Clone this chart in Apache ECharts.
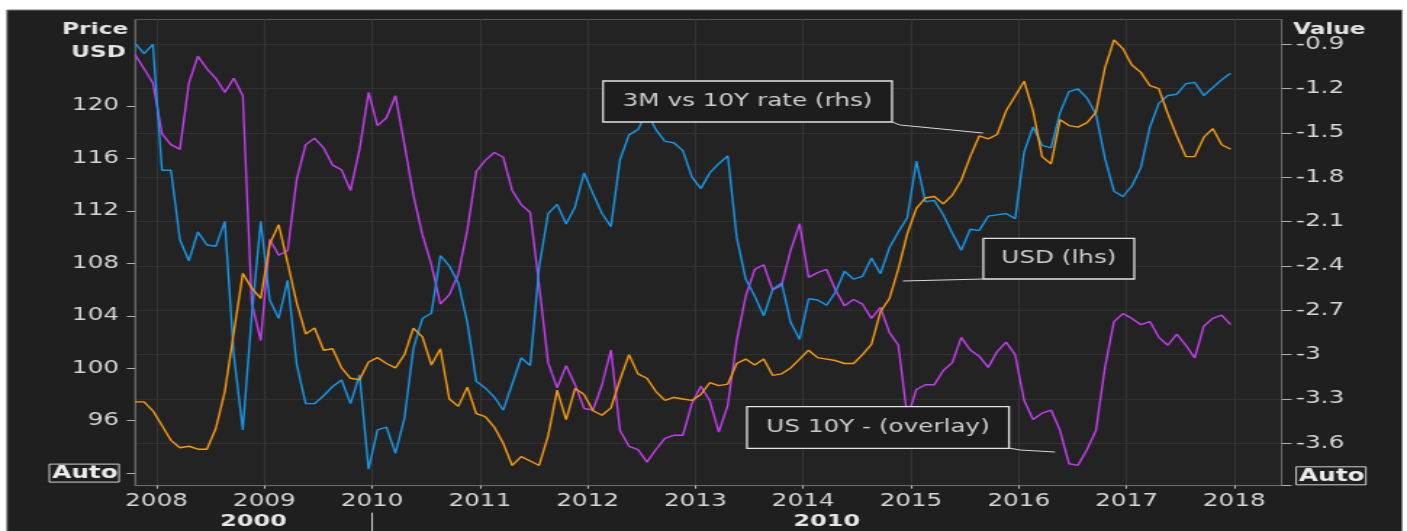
<!DOCTYPE html>
<html>
<head>
<meta charset="utf-8">
<title>USD vs 3M-10Y rate</title>
<script src="https://cdn.jsdelivr.net/npm/echarts@6/dist/echarts.min.js"></script>
<style>
  html, body { margin: 0; padding: 0; background: #fff; overflow: hidden; }
  /* the source screenshot is stretched sideways, so draw narrow and scale it */
  #chart { width: 970px; height: 531px; transform: scaleX(1.4505); transform-origin: 0 0; }
</style>
</head>
<body>
<div id="chart"></div>
<script>
// monthly points, Oct 2007 .. Dec 2017
const startYear = 2007
const startMonth = 10

const usd = [
  124.8, 124.0, 124.7, 115.1, 115.1, 109.8, 108.2, 110.4, 109.4, 109.3,
  111.2, 101.0, 95.3, 104.0, 111.2, 105.2, 103.8, 106.7, 100.3, 97.3,
  97.3, 97.9, 98.6, 99.1, 97.3, 99.5, 92.3, 95.3, 95.5, 93.5,
  96.2, 101.5, 103.8, 104.2, 108.6, 107.8, 106.5, 103.5, 99.0, 98.5,
  97.8, 96.8, 98.8, 100.8, 100.2, 107.7, 111.8, 112.5, 111.0, 112.3,
  114.9, 113.3, 111.8, 110.8, 115.9, 117.8, 118.2, 119.5, 118.2, 117.3,
  117.2, 116.6, 114.6, 113.7, 114.9, 115.6, 116.2, 110.0, 106.8, 105.5,
  104.0, 106.0, 106.5, 103.5, 102.2, 105.3, 105.2, 104.8, 105.8, 107.4,
  106.8, 107.0, 108.4, 107.2, 109.2, 110.4, 111.5, 115.8, 112.7, 112.8,
  111.7, 110.3, 109.0, 110.6, 110.5, 111.6, 111.7, 111.8, 111.4, 116.5,
  118.4, 117.0, 116.8, 119.5, 121.1, 121.3, 120.6, 119.4, 116.0, 113.5,
  113.1, 113.9, 115.3, 118.4, 120.2, 120.8, 120.9, 121.7, 121.8, 120.8,
  121.4, 122.0, 122.5
]

const rate3m10y = [
  -3.32, -3.32, -3.38, -3.48, -3.58, -3.63, -3.62, -3.64, -3.64, -3.50,
  -3.25, -2.85, -2.45, -2.55, -2.62, -2.25, -2.12, -2.38, -2.65, -2.86,
  -2.82, -2.97, -2.96, -3.09, -3.16, -3.17, -3.05, -3.02, -3.06, -3.09,
  -3.00, -2.82, -2.88, -3.07, -2.96, -3.30, -3.35, -3.22, -3.40, -3.42,
  -3.49, -3.60, -3.75, -3.69, -3.72, -3.75, -3.55, -3.24, -3.44, -3.23,
  -3.27, -3.38, -3.41, -3.36, -3.17, -3.00, -3.13, -3.16, -3.25, -3.31,
  -3.29, -3.30, -3.31, -3.27, -3.19, -3.21, -3.20, -3.06, -3.03, -3.07,
  -3.03, -3.14, -3.13, -3.09, -3.03, -2.97, -3.02, -3.03, -3.04, -3.06,
  -3.06, -3.00, -2.93, -2.71, -2.62, -2.42, -2.18, -2.01, -1.94, -1.93,
  -1.98, -1.92, -1.82, -1.66, -1.52, -1.54, -1.51, -1.35, -1.25, -1.15,
  -1.35, -1.66, -1.71, -1.41, -1.45, -1.46, -1.43, -1.36, -1.06, -0.87,
  -0.93, -1.04, -1.09, -1.18, -1.20, -1.37, -1.52, -1.66, -1.66, -1.53,
  -1.47, -1.58, -1.61
]

const us10y = [
  4.09, 4.00, 3.91, 3.59, 3.52, 3.49, 3.91, 4.08, 4.00, 3.94,
  3.85, 3.94, 3.83, 2.52, 2.28, 2.92, 2.82, 2.85, 3.30, 3.52,
  3.56, 3.50, 3.39, 3.36, 3.23, 3.49, 3.85, 3.64, 3.69, 3.83,
  3.52, 3.20, 2.95, 2.76, 2.51, 2.57, 2.70, 2.98, 3.35, 3.42,
  3.47, 3.44, 3.23, 3.14, 3.09, 2.63, 2.14, 1.98, 2.12, 2.00,
  1.85, 1.84, 2.00, 2.22, 1.71, 1.61, 1.59, 1.51, 1.59, 1.66,
  1.68, 1.68, 1.88, 1.99, 1.90, 1.70, 1.87, 2.28, 2.56, 2.73,
  2.76, 2.60, 2.63, 2.85, 3.02, 2.68, 2.71, 2.73, 2.60, 2.50,
  2.54, 2.51, 2.42, 2.49, 2.33, 2.25, 1.79, 1.97, 2.00, 2.00,
  2.09, 2.14, 2.30, 2.22, 2.18, 2.11, 2.21, 2.27, 2.19, 1.90,
  1.78, 1.82, 1.84, 1.71, 1.50, 1.49, 1.59, 1.71, 2.11, 2.40,
  2.45, 2.42, 2.38, 2.40, 2.30, 2.25, 2.32, 2.25, 2.17, 2.37,
  2.42, 2.44, 2.38
]

const years = [2008, 2009, 2010, 2011, 2012, 2013, 2014, 2015, 2016, 2017, 2018]
const decades = [2000, 2010]
const usdTicks = [92, 96, 100, 104, 108, 112, 116, 120]
const rateTicks = [-3.6, -3.3, -3.0, -2.7, -2.4, -2.1, -1.8, -1.5, -1.2, -0.9]

const xMin = 2007.8
const xMax = 2018.44
const sx = 1407 / 970
const px = x => x / sx // screenshot x -> chart x
const font = 'DejaVu Sans'
const textColor = '#d6d6d6'

const monthX = i => startYear + (startMonth - 1 + i + 0.6) / 12
const toPoints = arr => arr.map((v, i) => [monthX(i), v])

const autoRich = {
  auto: {
    fontFamily: font, fontWeight: 'bold', fontSize: 17, color: '#ececec',
    borderColor: '#d0d0d0', borderWidth: 1, padding: [1, 1, 0, 2]
  }
}

function callout(x, y, w, h, text, leader) {
  return [{
    type: 'rect', z: 50,
    shape: { x: px(x), y: y, width: px(x + w) - px(x), height: h },
    style: { fill: '#1d1d1d', stroke: '#e4e4e4', lineWidth: 1.3 }
  }, {
    type: 'text', z: 51,
    style: {
      text: text, x: px(x + w / 2), y: y + h / 2, align: 'center', verticalAlign: 'middle',
      fill: '#cdcdcd', font: '17px "' + font + '"'
    }
  }, {
    type: 'polyline', z: 50,
    shape: { points: leader.map(p => [px(p[0]), p[1]]) },
    style: { stroke: '#d8d8d8', lineWidth: 1, fill: null }
  }]
}

const chart = echarts.init(document.getElementById('chart'))

chart.setOption({
  animation: false,
  backgroundColor: 'transparent',
  textStyle: { fontFamily: font },
  grid: {
    show: true, left: px(135), right: 970 - px(1281.7), top: 19.5, bottom: 45.3,
    backgroundColor: '#232323', borderColor: '#585858', borderWidth: 1
  },
  xAxis: [{
    type: 'value', min: xMin, max: xMax,
    axisLine: { lineStyle: { color: '#6a6a6a' } },
    axisTick: { customValues: years, length: 3, lineStyle: { color: '#bdbdbd' } },
    axisLabel: { customValues: years, formatter: v => String(v), color: textColor, fontSize: 17, fontFamily: font, margin: 7 },
    splitLine: { show: true, lineStyle: { color: '#353535' } }
  }, {
    type: 'value', min: xMin, max: xMax, position: 'bottom', offset: 27,
    axisLine: { show: false },
    axisTick: { customValues: [decades[1]], length: 20, lineStyle: { color: '#cfcfcf' } },
    axisLabel: {
      customValues: [(xMin + decades[1]) / 2, (decades[1] + xMax) / 2],
      formatter: v => String(v < decades[1] ? decades[0] : decades[1]),
      color: '#e6e6e6', fontSize: 16.5, fontWeight: 'bold', fontFamily: font, margin: 1
    },
    splitLine: { show: false }
  }],
  yAxis: [{
    type: 'value', position: 'left', min: 91.04, max: 126.6,
    axisLine: { show: true, lineStyle: { color: '#6a6a6a' } },
    axisTick: { show: true, customValues: usdTicks, length: 5.7, lineStyle: { color: '#b0b0b0' } },
    axisLabel: {
      customValues: usdTicks, margin: 11, color: textColor, fontSize: 17, fontFamily: font,
      formatter: v => v === usdTicks[0] ? '{auto|Auto}' : String(v),
      rich: autoRich
    },
    splitLine: { show: false }
  }, {
    type: 'value', position: 'right', min: -3.887, max: -0.732,
    axisLine: { show: true, lineStyle: { color: '#6a6a6a' } },
    axisTick: { show: true, customValues: [-3.887].concat(rateTicks), length: 6.9, lineStyle: { color: '#b0b0b0' } },
    axisLabel: {
      customValues: [-3.82].concat(rateTicks), margin: 10, color: textColor, fontSize: 17, fontFamily: font,
      formatter: v => v < -3.7 ? '{auto|Auto}' : String(Number(v.toFixed(1))),
      rich: autoRich
    },
    splitLine: { show: true, lineStyle: { color: '#313131' } }
  }, {
    type: 'value', show: false, min: 1.361, max: 4.312
  }],
  series: [{
    name: 'US 10Y - (overlay)', type: 'line', yAxisIndex: 2,
    data: toPoints(us10y), showSymbol: false, silent: true,
    lineStyle: { color: '#c53ef0', width: 1.4 }
  }, {
    name: 'USD (lhs)', type: 'line', yAxisIndex: 0,
    data: toPoints(usd), showSymbol: false, silent: true,
    lineStyle: { color: '#1698ea', width: 1.4 }
  }, {
    name: '3M vs 10Y rate (rhs)', type: 'line', yAxisIndex: 1,
    data: toPoints(rate3m10y), showSymbol: false, silent: true,
    lineStyle: { color: '#f59b10', width: 1.4 }
  }],
  graphic: [
    {
      type: 'rect', z: -10,
      shape: { x: px(7), y: 10, width: px(1402) - px(7), height: 530 },
      style: { fill: '#1f1f1f', stroke: '#7a7a7a', lineWidth: 1 }
    },
    { type: 'text', z: 20, style: { text: 'Price', x: px(128), y: 30, align: 'right', verticalAlign: 'middle', fill: '#e4e4e4', font: 'bold 16px "' + font + '"' } },
    { type: 'text', z: 20, style: { text: 'USD', x: px(126), y: 53, align: 'right', verticalAlign: 'middle', fill: '#e4e4e4', font: 'bold 16px "' + font + '"' } },
    { type: 'text', z: 20, style: { text: 'Value', x: px(1293), y: 30, align: 'left', verticalAlign: 'middle', fill: '#e4e4e4', font: 'bold 16px "' + font + '"' } }
  ]
    .concat(callout(603, 81, 289, 41, '3M vs 10Y rate (rhs)', [[892, 122], [900, 125], [983, 133]]))
    .concat(callout(983.3, 238.3, 151, 40.7, 'USD (lhs)', [[903, 281], [983.3, 279]]))
    .concat(callout(747, 406.7, 262, 41.6, 'US 10Y - (overlay)', [[1009, 448], [1020, 450], [1055, 452]]))
})
</script>
</body>
</html>
